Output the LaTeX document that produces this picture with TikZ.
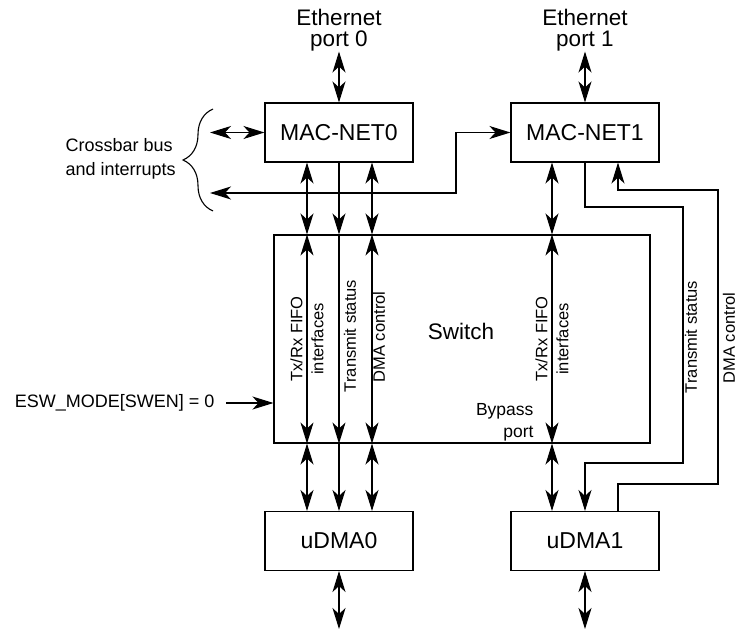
\documentclass[tikz,border=0pt]{standalone}
\usepackage{fontspec}
\setmainfont{Liberation Sans}
\usetikzlibrary{arrows.meta,decorations.pathreplacing}

\begin{document}
\begin{tikzpicture}[x=1pt, y=-1pt, line width=1.1pt,
  >={Stealth[length=21pt,width=13pt,inset=6pt]},
  box/.style={draw, rectangle, inner sep=0pt, minimum width=148pt, minimum height=59pt, font=\fontsize{23}{21}\selectfont},
  big/.style={inner sep=0pt, align=center, font=\fontsize{22.5}{21}\selectfont},
  small/.style={inner sep=0pt, font=\fontsize{18}{24}\selectfont},
  vlbl/.style={inner sep=0pt, rotate=90, align=center, font=\fontsize{16.5}{21}\selectfont}]
\useasboundingbox (0,0) rectangle (737,631);

\node[big] (eth0) at (339,30) {Ethernet\\port 0};
\node[big] (eth1) at (585,30) {Ethernet\\port 1};
\node[box] (mac0) at (339,132.5) {MAC-NET0};
\node[box] (mac1) at (585,132.5) {MAC-NET1};
\node[draw, inner sep=0pt, minimum width=376pt, minimum height=208pt] (sw) at (462,339) {};
\node[big] (swlbl) at (461,331) {Switch};
\node[box] (dma0) at (339,541) {uDMA0};
\node[box] (dma1) at (585,541) {uDMA1};

\node[small, align=left, anchor=west] (bus) at (65,158.5) {Crossbar bus\\and interrupts};
\node[small, anchor=east] (esw) at (215,403) {ESW\_MODE[SWEN] = 0};
\node[inner sep=0pt, align=right, anchor=east, font=\fontsize{17.5}{22}\selectfont] (byp) at (534,422) {Bypass\\port};

\node[vlbl] (fifo0) at (307,339) {Tx/Rx FIFO\\interfaces};
\node[vlbl] (ts0) at (350,336) {Transmit status};
\node[vlbl] (dc0) at (379,337) {DMA control};
\node[vlbl] (fifo1) at (552,339) {Tx/Rx FIFO\\interfaces};
\node[vlbl] (ts1) at (691,337) {Transmit status};
\node[vlbl] (dc1) at (729,338) {DMA control};

\coordinate (c1) at (307,0);
\coordinate (c3) at (372,0);
\coordinate (c4) at (552,0);
\coordinate (dc) at (618,0);
\coordinate (b1) at (210,132.5);
\coordinate (b2) at (210,193);
\coordinate (out0) at (339,629);
\coordinate (out1) at (585,629);

\draw[decorate, decoration={brace, amplitude=30pt}] (213,211) -- (213,109);

\draw[<->] (eth0) -- (mac0);
\draw[<->] (eth1) -- (mac1);
\draw[<->] (b1) -- (mac0.west);
\draw[<->] (b2) -- (456,193) |- (mac1.west);

\draw[<->] (mac0.south -| c1) -- (sw.north -| c1);
\draw[->] (mac0.south) -- (sw.north -| mac0);
\draw[<->] (mac0.south -| c3) -- (sw.north -| c3);
\draw[<->] (mac1.south -| c4) -- (sw.north -| c4);

\draw[<->] (sw.north -| c1) -- (sw.south -| c1);
\draw[->] (sw.north -| mac0) -- (sw.south -| mac0);
\draw[<->] (sw.north -| c3) -- (sw.south -| c3);
\draw[<->] (sw.north -| c4) -- (sw.south -| c4);

\draw[<->] (sw.south -| c1) -- (dma0.north -| c1);
\draw[->] (sw.south -| dma0) -- (dma0.north);
\draw[<->] (sw.south -| c3) -- (dma0.north -| c3);
\draw[<->] (sw.south -| c4) -- (dma1.north -| c4);

%\draw (sw.east) -- (dma1.east);
\draw[->] (mac1.south) -- (585,207) -| (683,463) -| (dma1.north);
\draw[->] (dma1.north -| dc) |- (718,484) |- (618,190) -- (mac1.south -| dc);
\draw[->] ([xshift=11pt]esw.east) -- (esw.east -| sw.west);

\draw[<->] (dma0) -- (out0);
\draw[<->] (dma1) -- (out1);
\end{tikzpicture}
\end{document}
